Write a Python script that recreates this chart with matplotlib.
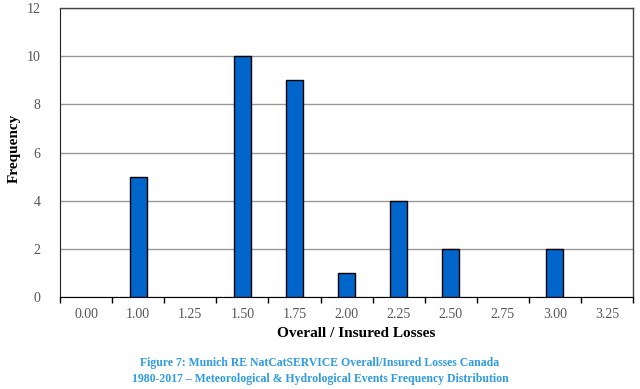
import matplotlib
matplotlib.use('Agg')
import matplotlib.pyplot as plt
import numpy as np

# data
categories = ['0.00', '1.00', '1.25', '1.50', '1.75', '2.00', '2.25', '2.50', '2.75', '3.00', '3.25']
frequency = [0, 5, 0, 10, 9, 1, 4, 2, 0, 2, 0]
y_ticks = [0, 2, 4, 6, 8, 10, 12]

plt.rcParams['font.family'] = ['Liberation Serif', 'DejaVu Serif']

fig = plt.figure(figsize=(6.4, 3.89), dpi=100)
ax = fig.add_axes([0.094, 0.2365, 0.895, 0.7425])

x = np.arange(len(categories))
lw = [1 if f > 0 else 0 for f in frequency]
ax.bar(x, frequency, width=0.33, color='#0066CC', edgecolor='black', linewidth=lw, zorder=3)

ax.set_xlim(-0.5, len(categories) - 0.5)
ax.set_ylim(0, 12)
ax.set_yticks(y_ticks)
ax.set_yticklabels([str(v) for v in y_ticks], fontsize=10, color='#555555')
ax.set_xticks(x)
ax.set_xticklabels(categories, fontsize=10, color='#555555')
ax.tick_params(axis='x', length=0, pad=8)
ax.tick_params(axis='y', length=0, pad=14)
# tick marks between the categories
ax.set_xticks(np.arange(-0.5, len(categories)), minor=True)
ax.tick_params(axis='x', which='minor', length=4, width=1, color='black', direction='out')

ax.grid(axis='y', color='#999999', linewidth=1, zorder=0)
for side in ['top', 'right']:
    ax.spines[side].set_color('#444444')
    ax.spines[side].set_linewidth(1)
ax.spines['left'].set_color('#222222')
ax.spines['bottom'].set_color('black')

ax.set_xlabel('Overall / Insured Losses', fontsize=11, fontweight='bold')
ax.xaxis.set_label_coords(0.517, -0.103)
ax.set_ylabel('Frequency', fontsize=11, fontweight='bold')
ax.yaxis.set_label_coords(-0.068, 0.515)

fig.text(0.5, 0.066, 'Figure 7: Munich RE NatCatSERVICE Overall/Insured Losses Canada',
         ha='center', va='center', fontsize=8.5, fontweight='bold', color='#2E9BE6')
fig.text(0.5, 0.025, '1980-2017 \u2013 Meteorological & Hydrological Events Frequency Distribution',
         ha='center', va='center', fontsize=8.5, fontweight='bold', color='#2E9BE6')

fig.savefig('out.png', dpi=100)
